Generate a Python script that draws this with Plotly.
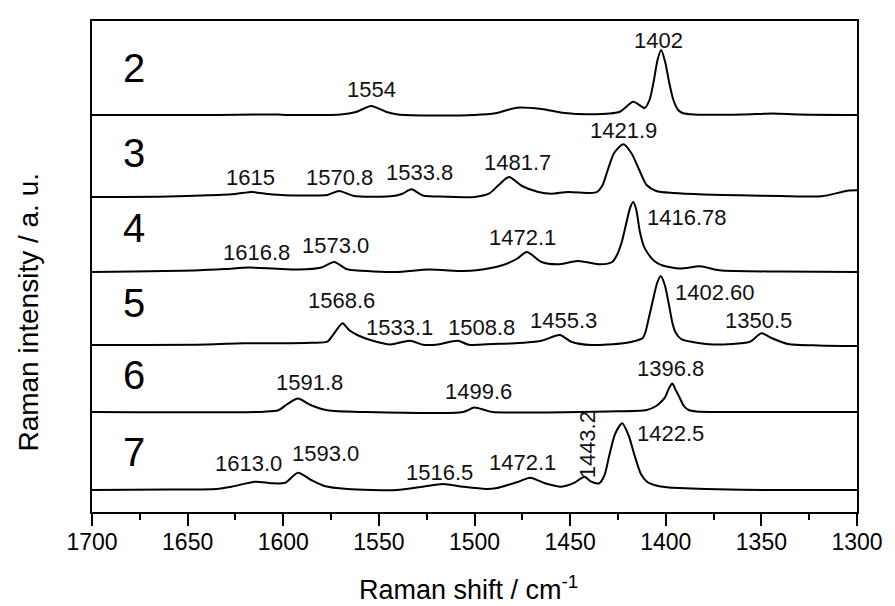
import plotly.graph_objects as go

# ---------------- data ----------------
sample_names = ["2", "3", "4", "5", "6", "7"]

s2_shift = [1700, 1640, 1603, 1598, 1570, 1562, 1554, 1546, 1540, 1525, 1500, 1489, 1478, 1465, 1454, 1439, 1424,
            1417, 1411, 1408.5, 1406.4, 1404.3, 1402.4, 1400.3, 1398.2, 1396, 1393.5, 1390.9, 1385, 1360, 1344, 1330, 1300]
s2_int = [0, 0, 0.5, 0, 0.5, 3, 9, 3, 0.5, -0.5, 0, 1.7, 7.3, 6, 2.3, 0.7, 3.3,
          13.3, 7, 15, 32.5, 55, 65, 53, 32.5, 15, 5, 1.7, 0.5, 0.5, 1.5, 0.5, 0]

s3_shift = [1700, 1660, 1639, 1625, 1616.4, 1608, 1599, 1585, 1577, 1570.8, 1563, 1544, 1538, 1533, 1527, 1515, 1500,
            1492.5, 1487.5, 1482, 1475.2, 1466.6, 1459.7, 1451.1, 1440, 1436, 1433, 1430.5, 1427, 1422.2, 1418, 1413.6,
            1410, 1405, 1396, 1380, 1361.6, 1340, 1318.5, 1308, 1304, 1300]
s3_int = [0, 0.5, 1.7, 3, 5, 3, 1.7, 1.5, 2, 6, 1, 0.7, 3, 7.7, 1.5, 0.3, 0,
          3.3, 11.7, 20, 11, 5, 3.3, 5, 4, 5, 12, 26, 44, 52.7, 44, 26,
          12, 6, 4, 2.5, 1.7, 1, 0.7, 5, 6.5, 6.7]

s4_shift = [1700, 1644, 1630, 1618, 1605, 1592, 1580, 1573.4, 1567, 1563, 1541, 1524, 1506, 1499, 1485.5, 1478, 1472.6,
            1465, 1456.3, 1446, 1434, 1428, 1425.5, 1423, 1420.5, 1418.5, 1417, 1415.5, 1413.5, 1411.5, 1409.5, 1406,
            1402, 1392.6, 1382, 1372, 1340, 1300]
s4_int = [0, 1.7, 3, 4.4, 3.5, 2.4, 4.5, 10, 3, 1.7, 0, 2.4, 1, 1.7, 6.7, 13, 20,
          10, 7.7, 11, 7.7, 10, 17, 30, 50, 65, 70, 63, 40, 26, 19, 11,
          6.7, 3.4, 5.7, 1.7, 0.5, 0]

s5_shift = [1700, 1640, 1621, 1602.6, 1585.4, 1577, 1573.4, 1569, 1565.6, 1561.3, 1554.4, 1544, 1533.8, 1527, 1520,
            1508.8, 1503, 1490, 1479, 1465, 1455.4, 1449.4, 1439, 1422, 1416, 1412, 1410.6, 1408.5, 1406.7, 1404.5,
            1402.6, 1400.5, 1398.5, 1396.5, 1395, 1392, 1386, 1375, 1356, 1350, 1344.4, 1336, 1320, 1300]
s5_int = [0, 0.5, 1.7, 1.7, 2.3, 3.3, 11.7, 21.7, 15, 10, 5, 0.5, 4.3, 0.3, 0.3,
          4.3, 0.3, 1, 1.7, 4.3, 10, 3.3, 0, 1.7, 4, 7, 13, 30, 45, 62,
          69, 60, 42, 22, 13, 6, 3, 0.5, 3.3, 11.7, 6.7, 1, -0.5, -1]

s6_shift = [1700, 1610, 1602.6, 1597.5, 1592.3, 1585.4, 1577, 1558, 1506, 1500.2, 1494.2, 1490.7, 1430, 1410, 1405,
            1402, 1400.3, 1398.5, 1396.6, 1394.8, 1392.9, 1390.5, 1388, 1384, 1370, 1300]
s6_int = [0, 0.3, 1.7, 8.4, 13.4, 6.7, 1.7, 0, 0, 4.4, 1.7, 0, 0.5, 2, 6,
          11, 15, 23, 28.4, 22, 15, 6, 2, 0.5, 0, 0]

s7_shift = [1700, 1660, 1635, 1627, 1614.7, 1606, 1599, 1592.3, 1585.4, 1578.5, 1566.5, 1540.7, 1527, 1516.5, 1506,
            1494, 1489, 1477, 1470.9, 1463.2, 1454.5, 1447.7, 1442.5, 1439, 1434.8, 1432, 1429.6, 1426.5, 1422.8,
            1419.5, 1416.2, 1413, 1409.8, 1405, 1399.5, 1379, 1344, 1300]
s7_int = [-1, -0.5, 0, 2.3, 7.3, 5.7, 6.3, 16.3, 9, 3, 0, -1, 2.3, 5, 2.3,
          0, 0.7, 7.3, 11.3, 5.7, 2.3, 6.3, 12.3, 7.3, 5.7, 14, 33, 55, 65.7,
          54, 33, 15, 7.3, 3.5, 1.7, 0, -1, -1]

peak_labels = [
    ["1554", "1402"],
    ["1615", "1570.8", "1533.8", "1481.7", "1421.9"],
    ["1616.8", "1573.0", "1472.1", "1416.78"],
    ["1568.6", "1533.1", "1508.8", "1455.3", "1402.60", "1350.5"],
    ["1591.8", "1499.6", "1396.8"],
    ["1613.0", "1593.0", "1516.5", "1472.1", "1443.2", "1422.5"],
]

x_ticks = [1700, 1650, 1600, 1550, 1500, 1450, 1400, 1350, 1300]

# ---------------- layout (positions / styles) ----------------
offsets = [397, 315, 240, 167, 100, 23]
label_pos = [
    [(1554.1, 423), (1404, 472)],
    [(1617.3, 335), (1570.8, 335), (1528.6, 340), (1477.4, 350), (1421.9, 382)],
    [(1613.8, 259.5), (1572.5, 267), (1474.8, 275), (1388.7, 295)],
    [(1569.5, 212), (1539.4, 185), (1496.3, 185), (1453.7, 192), (1374.1, 220), (1351.7, 192)],
    [(1586.3, 130), (1498, 121), (1397.7, 144)],
    [(1618.1, 49), (1578.1, 59), (1518.5, 40), (1474.7, 50), (1441, 67), (1397.7, 79)],
]
rotated = {(5, 4)}
name_pos = [(1678, 443.7), (1678, 359.5), (1678, 284.5), (1678, 209.5), (1678, 137), (1678, 60)]

FONT = "Liberation Sans, Arial, sans-serif"

spectra = [(s2_shift, s2_int), (s3_shift, s3_int), (s4_shift, s4_int),
           (s5_shift, s5_int), (s6_shift, s6_int), (s7_shift, s7_int)]

fig = go.Figure()
for (xs, ys), off in zip(spectra, offsets):
    fig.add_trace(go.Scatter(
        x=xs, y=[v + off for v in ys], mode="lines",
        line=dict(color="black", width=2, shape="spline", smoothing=0.7),
        showlegend=False, hoverinfo="skip"))

ann = []
for i, name in enumerate(sample_names):
    ann.append(dict(x=name_pos[i][0], y=name_pos[i][1], xref="x", yref="y", text=name,
                    showarrow=False, font=dict(family=FONT, size=40, color="black"),
                    xanchor="center", yanchor="middle"))
    for j, txt in enumerate(peak_labels[i]):
        px, py = label_pos[i][j]
        ann.append(dict(x=px, y=py, xref="x", yref="y", text=txt, showarrow=False,
                        textangle=-90 if (i, j) in rotated else 0,
                        font=dict(family=FONT, size=22, color="#111"),
                        xanchor="center", yanchor="middle"))

ann.append(dict(x=0.4926, y=-0.1554, xref="paper", yref="paper",
                text="Raman shift / cm<sup>-1</sup>", showarrow=False,
                font=dict(family=FONT, size=27, color="black"), xanchor="center", yanchor="middle"))
ann.append(dict(x=-0.0833, y=0.4067, xref="paper", yref="paper",
                text="Raman intensity / a. u.", showarrow=False, textangle=-90,
                font=dict(family=FONT, size=28, color="black"), xanchor="center", yanchor="middle"))

fig.update_layout(
    width=895, height=606,
    margin=dict(l=92, r=29, t=21, b=94),
    paper_bgcolor="white", plot_bgcolor="white",
    annotations=ann,
    xaxis=dict(range=[1700, 1300], tickvals=x_ticks, ticktext=[str(t) for t in x_ticks],
               ticks="outside", ticklen=12, tickwidth=1.5, tickcolor="black",
               ticklabelstandoff=-4,
               minor=dict(ticks="outside", ticklen=6, tickwidth=1.5, tickcolor="black", dtick=25, tick0=1300),
               showline=True, linecolor="black", linewidth=2, mirror=True,
               showgrid=False, zeroline=False,
               tickfont=dict(family=FONT, size=23, color="black")),
    yaxis=dict(range=[0, 491], showticklabels=False, ticks="",
               showline=True, linecolor="black", linewidth=2, mirror=True,
               showgrid=False, zeroline=False),
)

fig.write_html("out.html")
